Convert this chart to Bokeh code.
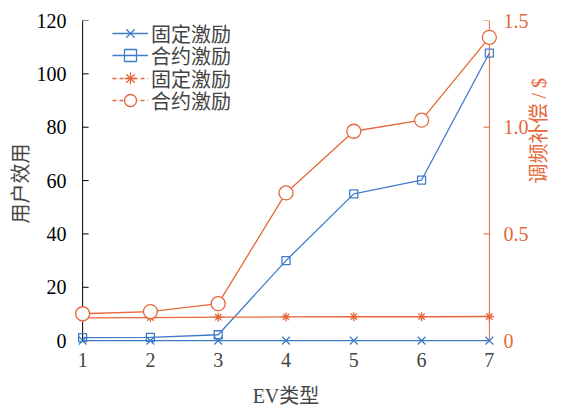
import math
from bokeh.plotting import figure
from bokeh.models import Range1d, LinearAxis, Legend, LegendItem, ColumnDataSource, FixedTicker
from bokeh.embed import file_html
from bokeh.resources import INLINE

ev_types = [1, 2, 3, 4, 5, 6, 7]
utility_fixed = [0, 0, 0, 0, 0, 0, 0]
utility_contract = [1.1, 1.2, 2.2, 30.0, 55.0, 60.2, 107.8]
comp_fixed = [0.107, 0.108, 0.110, 0.111, 0.112, 0.112, 0.113]
comp_contract = [0.126, 0.136, 0.173, 0.692, 0.981, 1.033, 1.421]
left_ticks = [0, 20, 40, 60, 80, 100, 120]
right_ticks = [0, 0.5, 1.0, 1.5]
series_name_fixed = "固定激励"
series_name_contract = "合约激励"

BLUE = "#3f7cc8"
ORANGE = "#e5673a"
NUM_FONT = "Liberation Serif"
CJK_FONT = "Noto Sans CJK SC"
MIX_FONT = "Liberation Serif, Noto Sans CJK SC"

# frame geometry: ranges are padded a little so edge markers are not clipped,
# and the axis lines are drawn at the data limits inside the frame
W, H = 564, 409
BORDER_L, BORDER_R, BORDER_T, BORDER_B = 74, 67, 20, 62
X_MIN, X_MAX, X_PAD = ev_types[0], ev_types[-1], 0.12
LEFT_MAX, RIGHT_MAX, Y_PAD = 120.0, 1.5, 2.2
TICK_PX = 6

frame_w = W - BORDER_L - BORDER_R
px_per_x = frame_w / (X_MAX - X_MIN + 2 * X_PAD)
tick_dx = TICK_PX / px_per_x

p = figure(width=W, height=H, output_backend="svg", toolbar_location=None,
           x_range=Range1d(X_MIN - X_PAD, X_MAX + X_PAD), y_range=Range1d(-Y_PAD, LEFT_MAX),
           min_border_left=BORDER_L, min_border_right=BORDER_R,
           min_border_top=BORDER_T, min_border_bottom=BORDER_B)
p.outline_line_color = None
p.grid.grid_line_color = None
p.extra_y_ranges = {"comp": Range1d(-Y_PAD * RIGHT_MAX / LEFT_MAX, RIGHT_MAX)}

# axis lines and inward ticks
p.segment(x0=[X_MIN], y0=[0], x1=[X_MIN], y1=[LEFT_MAX], line_color="black", line_width=1)
p.segment(x0=[X_MIN] * len(left_ticks), y0=left_ticks,
          x1=[X_MIN + tick_dx] * len(left_ticks), y1=left_ticks, line_color="black", line_width=1)
p.segment(x0=[X_MAX], y0=[0], x1=[X_MAX], y1=[RIGHT_MAX], line_color=ORANGE, line_width=1,
          y_range_name="comp")
p.segment(x0=[X_MAX] * len(right_ticks), y0=right_ticks,
          x1=[X_MAX - tick_dx] * len(right_ticks), y1=right_ticks, line_color=ORANGE, line_width=1,
          y_range_name="comp")

src = ColumnDataSource(dict(x=ev_types, uf=utility_fixed, uc=utility_contract,
                            cf=comp_fixed, cc=comp_contract))

# blue series on the left axis
p.line("x", "uf", source=src, color=BLUE, line_width=1.3)
p.scatter("x", "uf", source=src, marker="x", size=11, line_color=BLUE, line_width=1.3)
p.line("x", "uc", source=src, color=BLUE, line_width=1.3)
p.scatter("x", "uc", source=src, marker="square", size=8, line_color=BLUE, fill_color=None, line_width=1.3)

# orange series on the right axis
p.line("x", "cf", source=src, color=ORANGE, line_width=1.3, y_range_name="comp")
p.scatter("x", "cf", source=src, marker="asterisk", size=9, line_color=ORANGE, line_width=1.3, y_range_name="comp")
p.line("x", "cc", source=src, color=ORANGE, line_width=1.3, y_range_name="comp")
p.scatter("x", "cc", source=src, marker="circle", size=14, line_color=ORANGE, fill_color="white", line_width=1.3, y_range_name="comp")

# legend-only glyphs (dashed lines for the compensation series)
nan = float("nan")
def legend_src():
    return ColumnDataSource(dict(x=[nan], y=[nan]))
lg1 = [p.line("x", "y", source=legend_src(), color=BLUE, line_width=1.3),
       p.scatter("x", "y", source=legend_src(), marker="x", size=11, line_color=BLUE, line_width=1.3)]
lg2 = [p.line("x", "y", source=legend_src(), color=BLUE, line_width=1.3),
       p.scatter("x", "y", source=legend_src(), marker="square", size=8, line_color=BLUE, fill_color=None, line_width=1.3)]
lg3 = [p.line("x", "y", source=legend_src(), color=ORANGE, line_width=1.3, line_dash="4 3"),
       p.scatter("x", "y", source=legend_src(), marker="asterisk", size=9, line_color=ORANGE, line_width=1.3)]
lg4 = [p.line("x", "y", source=legend_src(), color=ORANGE, line_width=1.3, line_dash="4 3"),
       p.scatter("x", "y", source=legend_src(), marker="circle", size=14, line_color=ORANGE, fill_color="white", line_width=1.3)]

# one single-row legend per entry, stacked with tight row spacing
legend_rows = [(series_name_fixed, lg1, 298), (series_name_contract, lg2, 276),
               (series_name_fixed, lg3, 253), (series_name_contract, lg4, 231)]
for label, rends, ypos in legend_rows:
    p.add_layout(Legend(items=[LegendItem(label=label, renderers=rends)],
                        location=(38, ypos), border_line_color=None, background_fill_alpha=0,
                        label_text_font=CJK_FONT, label_text_font_size="20px",
                        glyph_width=36, spacing=0, padding=0, margin=0,
                        label_standoff=3, label_height=30, glyph_height=30))

# bottom axis: labels only
xa = p.xaxis[0]
xa.ticker = FixedTicker(ticks=ev_types)
xa.axis_line_color = None
xa.major_tick_line_color = None
xa.minor_tick_line_color = None
xa.major_label_text_font = NUM_FONT
xa.major_label_text_font_size = "20px"
xa.major_label_standoff = 0
xa.axis_label = "EV类型"
xa.axis_label_text_font = MIX_FONT
xa.axis_label_text_font_size = "20px"
xa.axis_label_text_font_style = "normal"
xa.axis_label_standoff = 15

# left axis: labels only (line and ticks drawn above)
ya = p.yaxis[0]
ya.ticker = FixedTicker(ticks=left_ticks)
ya.axis_line_color = None
ya.major_tick_line_color = None
ya.minor_tick_line_color = None
ya.major_label_text_font = NUM_FONT
ya.major_label_text_font_size = "20px"
ya.major_label_text_color = "black"
ya.major_label_standoff = 2
ya.axis_label = "用户效用"
ya.axis_label_text_font = CJK_FONT
ya.axis_label_text_font_size = "20px"
ya.axis_label_text_font_style = "normal"
ya.axis_label_standoff = 0

# right axis: labels only
ra = LinearAxis(y_range_name="comp", ticker=FixedTicker(ticks=right_ticks))
ra.major_label_overrides = {0: "0", 0.5: "0.5", 1.0: "1.0", 1.5: "1.5"}
ra.axis_line_color = None
ra.major_tick_line_color = None
ra.minor_tick_line_color = None
ra.major_label_text_color = ORANGE
ra.major_label_text_font = NUM_FONT
ra.major_label_text_font_size = "20px"
ra.major_label_standoff = 0
ra.axis_label = "调频补偿 / $"
ra.axis_label_orientation = math.pi / 2
ra.axis_label_text_color = ORANGE
ra.axis_label_text_font = MIX_FONT
ra.axis_label_text_font_size = "20px"
ra.axis_label_text_font_style = "normal"
ra.axis_label_standoff = 7
p.add_layout(ra, "right")

open("out.html", "w").write(file_html(p, INLINE))
